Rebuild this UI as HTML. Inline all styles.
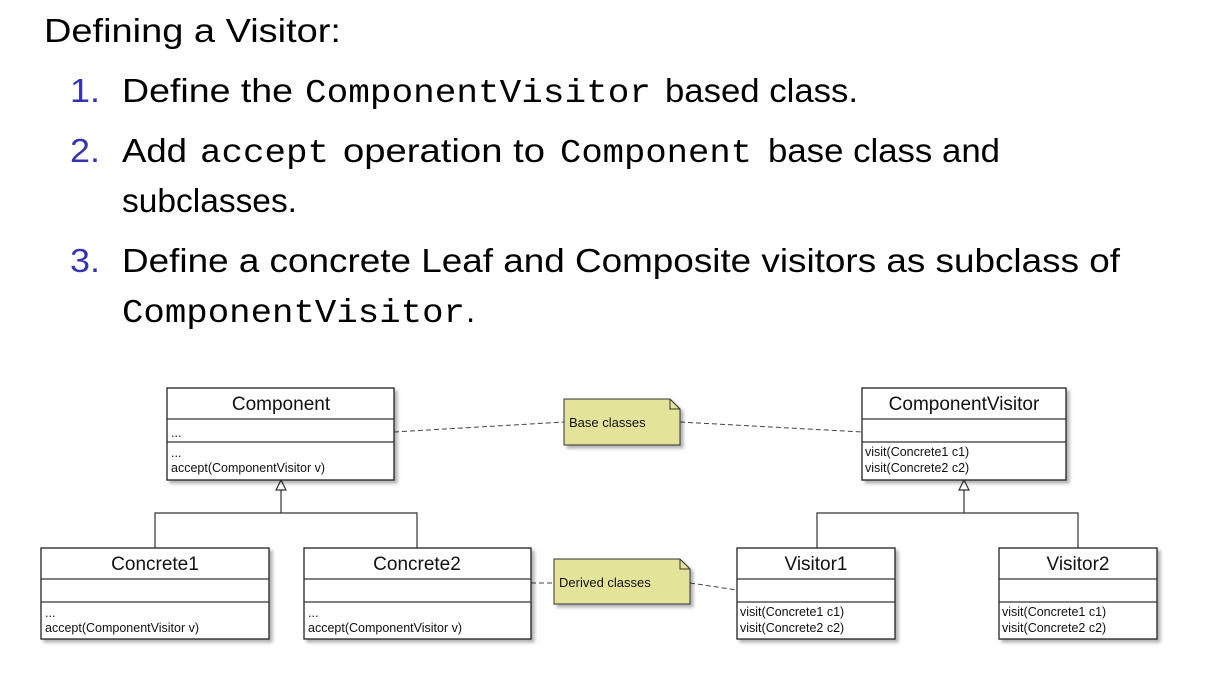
<!DOCTYPE html>
<html><head><meta charset="utf-8"><style>
html,body{margin:0;padding:0;background:#fff;}
svg{display:block}
.s{font-family:"Liberation Sans",sans-serif;font-size:33px;fill:#000}
.m{font-family:"Liberation Mono",monospace;font-size:33px;fill:#000}
.n{font-family:"Liberation Sans",sans-serif;font-size:33px;fill:#3333b3}
.h{font-family:"Liberation Sans",sans-serif;font-size:19px;fill:#111}
.t{font-family:"Liberation Sans",sans-serif;font-size:12.5px;fill:#111}
.nt{font-family:"Liberation Sans",sans-serif;font-size:13px;fill:#111}
.b{fill:#fff;stroke:#222;stroke-width:1.3}
.l{stroke:#333;stroke-width:1.2;fill:none}
.d{stroke:#444;stroke-width:1;fill:none;stroke-dasharray:5,3}
</style></head><body>
<svg width="1206" height="696" viewBox="0 0 1206 696" xmlns="http://www.w3.org/2000/svg">
<defs><filter id="sh" x="-5%" y="-5%" width="115%" height="120%"><feDropShadow dx="3" dy="3" stdDeviation="1.5" flood-color="#000" flood-opacity="0.3"/></filter></defs>
<text class="s" x="44" y="42" textLength="297" lengthAdjust="spacingAndGlyphs">Defining a Visitor:</text>

<text class="n" x="70" y="102" textLength="30" lengthAdjust="spacingAndGlyphs">1.</text>
<text class="s" x="122" y="102" textLength="171" lengthAdjust="spacingAndGlyphs">Define the</text>
<text class="m" x="305" y="102" textLength="346" lengthAdjust="spacingAndGlyphs">ComponentVisitor</text>
<text class="s" x="665" y="102" textLength="193" lengthAdjust="spacingAndGlyphs">based class.</text>

<text class="n" x="70" y="162" textLength="30" lengthAdjust="spacingAndGlyphs">2.</text>
<text class="s" x="122" y="162" textLength="65" lengthAdjust="spacingAndGlyphs">Add</text>
<text class="m" x="200" y="162" textLength="129" lengthAdjust="spacingAndGlyphs">accept</text>
<text class="s" x="343" y="162" textLength="202" lengthAdjust="spacingAndGlyphs">operation to</text>
<text class="m" x="560" y="162" textLength="192" lengthAdjust="spacingAndGlyphs">Component</text>
<text class="s" x="768" y="162" textLength="232" lengthAdjust="spacingAndGlyphs">base class and</text>
<text class="s" x="122" y="212" textLength="175" lengthAdjust="spacingAndGlyphs">subclasses.</text>

<text class="n" x="70" y="272" textLength="30" lengthAdjust="spacingAndGlyphs">3.</text>
<text class="s" x="122" y="272" textLength="998" lengthAdjust="spacingAndGlyphs">Define a concrete Leaf and Composite visitors as subclass of</text>
<text class="m" x="122" y="322" textLength="343" lengthAdjust="spacingAndGlyphs">ComponentVisitor</text>
<text class="s" x="466" y="322">.</text>

<!-- connectors -->
<path class="l" d="M281 490V513M155 548V513H417V548"/>
<polygon points="281,480 276,490 286,490" fill="#fff" stroke="#333" stroke-width="1.2"/>
<path class="l" d="M964 490V513M817 548V513H1078V548"/>
<polygon points="964,480 959,490 969,490" fill="#fff" stroke="#333" stroke-width="1.2"/>
<path class="d" d="M394 432L564 422M680 422L862 432M531 583H554M690 583L737 590"/>

<!-- Component -->
<g filter="url(#sh)"><rect class="b" x="167" y="388" width="227" height="92"/></g>
<path class="l" d="M167 419H394M167 442H394"/>
<text class="h" x="281" y="410" text-anchor="middle">Component</text>
<text class="t" x="171" y="437">...</text>
<text class="t" x="171" y="457">...</text>
<text class="t" x="171" y="472">accept(ComponentVisitor v)</text>

<!-- ComponentVisitor -->
<g filter="url(#sh)"><rect class="b" x="862" y="388" width="204" height="92"/></g>
<path class="l" d="M862 419H1066M862 442H1066"/>
<text class="h" x="964" y="410" text-anchor="middle">ComponentVisitor</text>
<text class="t" x="865" y="456">visit(Concrete1 c1)</text>
<text class="t" x="865" y="472">visit(Concrete2 c2)</text>

<!-- Concrete1 -->
<g filter="url(#sh)"><rect class="b" x="41" y="548" width="228" height="91"/></g>
<path class="l" d="M41 579H269M41 602H269"/>
<text class="h" x="155" y="570" text-anchor="middle">Concrete1</text>
<text class="t" x="45" y="617">...</text>
<text class="t" x="45" y="632">accept(ComponentVisitor v)</text>

<!-- Concrete2 -->
<g filter="url(#sh)"><rect class="b" x="304" y="548" width="227" height="91"/></g>
<path class="l" d="M304 579H531M304 602H531"/>
<text class="h" x="417" y="570" text-anchor="middle">Concrete2</text>
<text class="t" x="308" y="617">...</text>
<text class="t" x="308" y="632">accept(ComponentVisitor v)</text>

<!-- Visitor1 -->
<g filter="url(#sh)"><rect class="b" x="737" y="548" width="158" height="91"/></g>
<path class="l" d="M737 579H895M737 602H895"/>
<text class="h" x="816" y="570" text-anchor="middle">Visitor1</text>
<text class="t" x="740" y="616">visit(Concrete1 c1)</text>
<text class="t" x="740" y="632">visit(Concrete2 c2)</text>

<!-- Visitor2 -->
<g filter="url(#sh)"><rect class="b" x="999" y="548" width="158" height="91"/></g>
<path class="l" d="M999 579H1157M999 602H1157"/>
<text class="h" x="1078" y="570" text-anchor="middle">Visitor2</text>
<text class="t" x="1002" y="616">visit(Concrete1 c1)</text>
<text class="t" x="1002" y="632">visit(Concrete2 c2)</text>

<!-- notes -->
<g filter="url(#sh)"><path d="M564 399H670L680 409V445H564Z" fill="#e3e39a" stroke="#333" stroke-width="1"/></g>
<path d="M670 399V409H680" fill="none" stroke="#333" stroke-width="1"/>
<text class="nt" x="569" y="427">Base classes</text>
<g filter="url(#sh)"><path d="M554 559H680L690 569V604H554Z" fill="#e3e39a" stroke="#333" stroke-width="1"/></g>
<path d="M680 559V569H690" fill="none" stroke="#333" stroke-width="1"/>
<text class="nt" x="559" y="587">Derived classes</text>
</svg>
</body></html>
